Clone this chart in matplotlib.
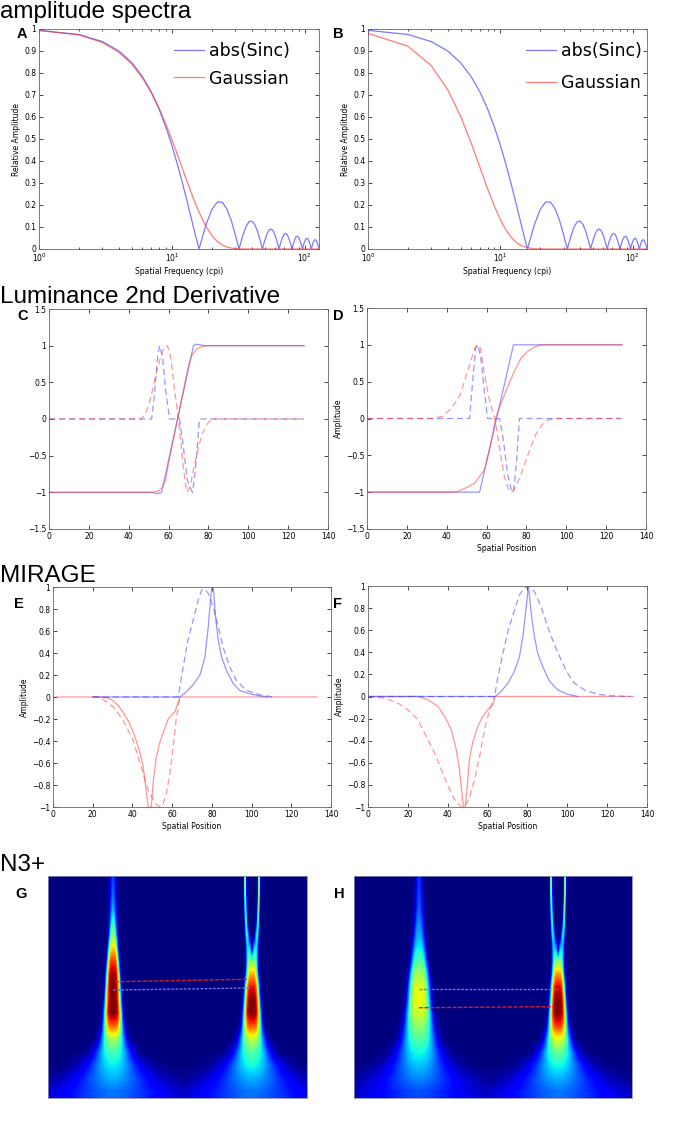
import numpy as np
import matplotlib
matplotlib.use("Agg")
import matplotlib.pyplot as plt
from matplotlib.ticker import FuncFormatter, MultipleLocator

# ---------------- data ----------------
# amplitude spectra (spatial frequency in cpi)
freq = [1, 2, 3, 4, 5, 6, 7, 8, 9, 10, 11, 12, 13, 14, 15, 16,
        18, 20, 22, 24, 26, 28, 30, 32, 34, 36, 38, 40, 42, 44, 46, 48,
        50, 52, 54, 56, 58, 60, 62, 64, 66, 68, 70, 72, 74, 76, 78, 80,
        82, 84, 86, 88, 90, 92, 94, 96, 98, 100, 102, 104, 106, 108, 110, 112,
        114, 116, 118, 120, 122, 124, 126, 128]
sinc_amp = [0.994, 0.975, 0.943, 0.900, 0.847, 0.784, 0.714, 0.637, 0.555, 0.471,
            0.385, 0.300, 0.218, 0.139, 0.066, 0.0,
            0.108, 0.180, 0.214, 0.212, 0.181, 0.129, 0.065, 0.0,
            0.057, 0.100, 0.124, 0.127, 0.112, 0.082, 0.042, 0.0,
            0.039, 0.069, 0.087, 0.091, 0.081, 0.060, 0.031, 0.0,
            0.030, 0.053, 0.067, 0.071, 0.064, 0.047, 0.025, 0.0,
            0.024, 0.043, 0.055, 0.058, 0.052, 0.039, 0.021, 0.0,
            0.020, 0.036, 0.046, 0.049, 0.044, 0.033, 0.018, 0.0,
            0.017, 0.031, 0.040, 0.042, 0.039, 0.029, 0.016, 0.0]
gauss_amp_a = [0.993, 0.973, 0.939, 0.894, 0.840, 0.778, 0.711, 0.640, 0.568, 0.498,
               0.430, 0.366, 0.308, 0.255, 0.208, 0.168,
               0.104, 0.061, 0.034, 0.018, 0.009, 0.004, 0.002, 0.001,
               0.0003, 0.0001] + [0.0] * 46
gauss_amp_b = [0.980, 0.922, 0.834, 0.724, 0.604, 0.483, 0.372, 0.274, 0.195, 0.133,
               0.087, 0.055, 0.033, 0.019, 0.011, 0.006,
               0.0014, 0.0003] + [0.0] * 54

# luminance edge (solid) and 2nd derivative (dashed), panel C
c_sinc_x = [0, 52, 54, 56.5, 72.5, 74, 78, 128]
c_sinc_y = [-1, -1, -1.02, -1, 1, 1.02, 1, 1]
c_gauss_x = [0, 52, 55, 57, 58.5, 60, 62, 64.5, 67, 69, 70.5, 72, 74, 76, 79, 128]
c_gauss_y = [-1, -1, -0.98, -0.93, -0.83, -0.6, -0.33, 0, 0.33, 0.6, 0.78, 0.88, 0.95, 0.98, 1, 1]
c_sinc_d2_x = [0, 51.5, 53, 54.5, 55.5, 57, 58.5, 60.5, 65.5, 67.5, 69.5, 72, 73.5, 75.5, 128]
c_sinc_d2_y = [0, 0, 0.35, 0.85, 1, 0.85, 0.4, 0, 0, -0.4, -0.85, -1, -0.7, 0, 0]
c_gauss_d2_x = [0, 46, 48, 50, 52, 54, 56, 58, 59.5, 61, 63, 65, 67, 68.5, 69.5, 71, 73,
                75.5, 77, 79, 81, 83, 128]
c_gauss_d2_y = [0, 0, 0.05, 0.18, 0.4, 0.65, 0.85, 0.98, 1, 0.85, 0.4, 0, -0.55, -0.9, -1,
                -0.9, -0.62, -0.34, -0.2, -0.08, -0.02, 0, 0]

# panel D
d_sinc_x = [0, 56.5, 73.5, 128]
d_sinc_y = [-1, -1, 1, 1]
d_gauss_x = [0, 43, 45.5, 50.5, 53.9, 58.9, 62.2, 64.5, 67.2, 70.6, 73.9, 77.3, 80.6,
             84, 87.3, 128]
d_gauss_y = [-1, -1, -0.99, -0.93, -0.88, -0.7, -0.34, 0, 0.2, 0.43, 0.64, 0.82, 0.91,
             0.97, 1, 1]
d_sinc_d2_x = [0, 51.5, 53, 54.5, 55.5, 57, 59, 60.5, 66.5, 68.5, 70.5, 72.5, 73.5, 75, 76.5, 128]
d_sinc_d2_y = [0, 0, 0.5, 0.95, 1, 0.85, 0.35, 0, 0, -0.3, -0.75, -0.98, -1, -0.6, 0, 0]
d_gauss_d2_x = [0, 33, 38, 42, 45, 47, 50, 52, 54, 55.5, 57, 59, 61, 62.5, 64.2, 66.5, 69,
                71, 72.5, 74, 77, 80, 82, 85, 88, 91, 94, 127]
d_gauss_d2_y = [0, 0, 0.03, 0.13, 0.24, 0.34, 0.6, 0.77, 0.95, 1, 0.95, 0.6, 0.3, 0.15, 0,
                -0.4, -0.8, -0.96, -1, -0.96, -0.78, -0.55, -0.4, -0.2, -0.08, -0.02, 0, 0]

# MIRAGE, panel E
e_pos_x = [20, 64, 67, 70.5, 74, 76.5, 78.2, 79.3, 80, 80.7, 82, 83.2, 85, 87.4, 90.8,
           94, 99, 104, 108]
e_pos_y = [0, 0, 0.045, 0.11, 0.2, 0.36, 0.64, 0.88, 1, 1, 0.7, 0.52, 0.36, 0.24, 0.12,
           0.06, 0.03, 0.01, 0]
e_pos_d_x = [20, 63, 64.7, 66.4, 68, 70.6, 73.1, 74.8, 76.5, 78.2, 80.7, 83.2, 85.7, 89.1,
             92.4, 97.5, 104.2, 110.9]
e_pos_d_y = [0, 0, 0.18, 0.36, 0.52, 0.7, 0.88, 0.97, 0.98, 0.94, 0.82, 0.64, 0.45, 0.27,
             0.15, 0.06, 0.02, 0]
e_neg_x = [0, 24, 28, 30, 33, 35, 38, 40, 42, 44, 45.5, 47, 48, 49.5, 50.5, 52, 54, 56,
           58, 60, 61.5, 64, 133]
e_neg_y = [0, 0, -0.01, -0.03, -0.08, -0.13, -0.22, -0.3, -0.4, -0.52, -0.64, -0.87, -1,
           -1, -0.76, -0.55, -0.4, -0.3, -0.2, -0.16, -0.13, 0, 0]
e_neg_d_x = [20, 23.5, 30.3, 35.3, 40.3, 44.5, 47.9, 52.1, 53.8, 55.5, 57.1, 58.8, 60.5,
             62.2, 63.9]
e_neg_d_y = [0, 0, -0.09, -0.21, -0.39, -0.64, -0.85, -0.98, -1, -0.97, -0.88, -0.7, -0.45,
             -0.18, 0]

# MIRAGE, panel F
f_pos_x = [0, 63.8, 66.8, 70.2, 73.5, 76, 77.7, 79.4, 80.5, 81.9, 83.5, 85.2, 87.7, 91,
           95.2, 100.2, 105.2]
f_pos_y = [0, 0, 0.045, 0.12, 0.23, 0.36, 0.54, 0.81, 1, 0.75, 0.54, 0.39, 0.27, 0.14,
           0.06, 0.02, 0]
f_pos_d_x = [0, 63.5, 65.2, 67.7, 70.2, 73.5, 76, 78.5, 80.5, 83.5, 86.9, 90.2, 93.5, 96.9,
             100.2, 103.6, 108.6, 115.3, 122, 132]
f_pos_d_y = [0, 0, 0.18, 0.39, 0.59, 0.78, 0.92, 0.98, 1, 0.95, 0.81, 0.63, 0.47, 0.33,
             0.21, 0.12, 0.06, 0.02, 0.006, 0]
f_neg_x = [0, 25, 30.1, 35.1, 38.4, 41.8, 44.3, 45.9, 47.1, 47.9, 48.8, 49.8, 50.9, 52.6,
           55.1, 57.6, 60.1, 62.6, 63.8, 133]
f_neg_y = [0, 0, -0.03, -0.09, -0.18, -0.3, -0.48, -0.66, -0.87, -1, -1, -0.81, -0.57,
           -0.41, -0.27, -0.18, -0.12, -0.075, 0, 0]
f_neg_d_x = [0, 8.4, 15, 20, 25, 29.2, 33.4, 36.8, 40.1, 43.4, 46.8, 48.4, 50.9, 53.5, 56,
             58.5, 61, 63.5]
f_neg_d_y = [0, -0.015, -0.06, -0.12, -0.21, -0.36, -0.51, -0.66, -0.81, -0.93, -1, -1,
             -0.92, -0.75, -0.54, -0.3, -0.12, 0]

# N3+ maps: per-row strength, width and profile shape of the two ridges (rows top -> bottom)
ridge_pow = [2, 2, 2, 2.5, 3, 3.5, 4, 4, 4, 4, 4, 3.5, 3, 2.5, 2, 1.8, 1.6]
g_left_amp = [0.2, 0.24, 0.3, 0.4, 0.52, 0.68, 0.85, 0.97, 1.0, 1.0, 1.0, 0.8, 0.55, 0.43, 0.36, 0.3, 0.24]
g_left_sig = [2.2, 2.2, 2.3, 2.7, 3.2, 4, 4.75, 5.5, 6, 6.5, 7.2, 7.8, 9.5, 13, 18, 26, 38]
g_right_amp = [0.58, 0.53, 0.48, 0.43, 0.38, 0.36, 0.5, 0.72, 0.9, 1.0, 1.0, 0.82, 0.58, 0.45, 0.38, 0.3, 0.24]
g_right_sig = [0.8, 0.8, 0.9, 1.1, 1.5, 2.2, 4, 5, 5.8, 6.3, 7, 7.6, 9.5, 13, 18, 26, 38]
g_right_split = [7, 6.8, 6.5, 6, 5, 3.5, 1, 0, 0, 0, 0, 0, 0, 0, 0, 0, 0]
h_left_amp = [0.18, 0.2, 0.22, 0.26, 0.3, 0.36, 0.45, 0.55, 0.62, 0.64, 0.6, 0.52, 0.45, 0.38, 0.32, 0.26, 0.2]
h_left_sig = [2.4, 2.6, 2.8, 3.5, 4.3, 5.5, 6.6, 7.9, 8.8, 9.4, 10.6, 11.6, 13.2, 16, 20, 28, 38]
h_right_amp = [0.58, 0.53, 0.48, 0.42, 0.36, 0.33, 0.5, 0.75, 0.92, 1.0, 1.0, 0.85, 0.62, 0.47, 0.38, 0.3, 0.24]
h_right_sig = [0.8, 0.8, 0.9, 1.1, 1.5, 2.2, 4, 5, 5.8, 6.3, 7, 7.6, 9.5, 13, 18, 26, 38]
h_right_split = [7, 6.8, 6.5, 6, 5, 3.5, 1, 0, 0, 0, 0, 0, 0, 0, 0, 0, 0]

# ---------------- layout ----------------
W, H = 682, 1131
fig = plt.figure(figsize=(W / 100, H / 100), dpi=100)


def px_axes(l, t, r, b):
    return fig.add_axes([l / W, 1 - b / H, (r - l) / W, (b - t) / H])


def fmt(v, pos):
    v = round(v, 6) + 0.0
    return ("%g" % v).replace("-", "\u2212")


def style(ax):
    for s in ax.spines.values():
        s.set_color("#666666")
        s.set_linewidth(0.6)
    ax.tick_params(which="both", direction="in", top=True, right=True,
                   labelsize=5.5, width=0.5, pad=2)
    ax.tick_params(which="major", length=3)
    ax.tick_params(which="minor", length=1.5)


def fig_text(x, y, s, **kw):
    fig.text(x / W, 1 - y / H, s, va="baseline", ha="left", **kw)


blue = (0.2, 0.2, 1.0, 0.65)
red = (1.0, 0.2, 0.2, 0.65)
blue_l = (0.25, 0.25, 1.0, 0.55)
red_l = (1.0, 0.25, 0.25, 0.55)
lw = 0.9

title_font = dict(family="Liberation Sans", fontsize=17.5)
letter_font = dict(family="Liberation Sans", fontsize=10.5, fontweight="bold")

# section titles and panel letters
fig_text(0, 18, "amplitude spectra", **title_font)
fig_text(0, 303, "Luminance 2nd Derivative", **title_font)
fig_text(0, 582, "MIRAGE", **title_font)
fig_text(0, 871, "N3+", **title_font)
for letter, x, y in [("A", 17, 38), ("B", 333, 38), ("C", 17, 320), ("D", 333, 320),
                     ("E", 14, 608), ("F", 333, 608), ("G", 15, 898), ("H", 334, 898)]:
    fig_text(x, y, letter, **letter_font)

# ---------------- A, B: spectra ----------------
for rect, gauss, leg_xy, spacing in [((39, 29, 319, 249), gauss_amp_a, (174, 42), 0.55),
                                     ((368, 29, 647, 249), gauss_amp_b, (526, 42), 0.8)]:
    ax = px_axes(*rect)
    ax.plot(freq, sinc_amp, color=blue, lw=lw, label="abs(Sinc)")
    ax.plot(freq, gauss, color=red, lw=lw, label="Gaussian")
    ax.set_xscale("log")
    ax.set_xlim(1, 128)
    ax.set_ylim(0, 1)
    ax.yaxis.set_major_locator(MultipleLocator(0.1))
    ax.yaxis.set_major_formatter(FuncFormatter(fmt))
    ax.set_xlabel("Spatial Frequency (cpi)", fontsize=5.5, labelpad=2)
    ax.set_ylabel("Relative Amplitude", fontsize=5.5, labelpad=2)
    style(ax)
    ax.legend(loc="upper left", bbox_to_anchor=(leg_xy[0] / W, 1 - leg_xy[1] / H),
              bbox_transform=fig.transFigure, frameon=False, fontsize=12.5,
              handlelength=1.7, handletextpad=0.3, labelspacing=spacing,
              borderpad=0, borderaxespad=0)

# ---------------- C, D: luminance ----------------
for rect, sets, labels in [
        ((49, 309, 328, 529),
         (c_sinc_x, c_sinc_y, c_gauss_x, c_gauss_y, c_sinc_d2_x, c_sinc_d2_y, c_gauss_d2_x, c_gauss_d2_y),
         False),
        ((367, 308, 646, 529),
         (d_sinc_x, d_sinc_y, d_gauss_x, d_gauss_y, d_sinc_d2_x, d_sinc_d2_y, d_gauss_d2_x, d_gauss_d2_y),
         True)]:
    ax = px_axes(*rect)
    sx, sy, gx, gy, sdx, sdy, gdx, gdy = sets
    ax.plot(sx, sy, color=blue_l, lw=lw)
    ax.plot(gx, gy, color=red_l, lw=lw)
    ax.plot(sdx, sdy, color=blue_l, lw=lw, ls=(0, (5, 3)))
    ax.plot(gdx, gdy, color=red_l, lw=lw, ls=(0, (5, 3)))
    ax.set_xlim(0, 140)
    ax.set_ylim(-1.5, 1.5)
    ax.xaxis.set_major_locator(MultipleLocator(20))
    ax.yaxis.set_major_locator(MultipleLocator(0.5))
    ax.yaxis.set_major_formatter(FuncFormatter(fmt))
    ax.xaxis.set_major_formatter(FuncFormatter(fmt))
    if labels:
        ax.set_xlabel("Spatial Position", fontsize=5.5, labelpad=2)
        ax.set_ylabel("Amplitude", fontsize=5.5, labelpad=2)
    style(ax)

# ---------------- E, F: MIRAGE ----------------
for rect, sets in [
        ((53, 587, 331, 807),
         (e_neg_x, e_neg_y, e_neg_d_x, e_neg_d_y, e_pos_x, e_pos_y, e_pos_d_x, e_pos_d_y)),
        ((368, 586, 647, 807),
         (f_neg_x, f_neg_y, f_neg_d_x, f_neg_d_y, f_pos_x, f_pos_y, f_pos_d_x, f_pos_d_y))]:
    ax = px_axes(*rect)
    nx, ny, ndx, ndy, px_, py, pdx, pdy = sets
    ax.plot(nx, ny, color=red_l, lw=lw)
    ax.plot(ndx, ndy, color=red_l, lw=lw, ls=(0, (5, 3)))
    ax.plot(px_, py, color=blue_l, lw=lw)
    ax.plot(pdx, pdy, color=blue_l, lw=lw, ls=(0, (5, 3)))
    ax.set_xlim(0, 140)
    ax.set_ylim(-1, 1)
    ax.xaxis.set_major_locator(MultipleLocator(20))
    ax.yaxis.set_major_locator(MultipleLocator(0.2))
    ax.yaxis.set_major_formatter(FuncFormatter(fmt))
    ax.xaxis.set_major_formatter(FuncFormatter(fmt))
    ax.set_xlabel("Spatial Position", fontsize=5.5, labelpad=2)
    ax.set_ylabel("Amplitude", fontsize=5.5, labelpad=2)
    style(ax)


# ---------------- G, H: N3+ maps ----------------
def ridge(ncols, center, amps, sigs, splits=None):
    cols = np.arange(ncols) + 0.5
    rows = []
    for i, a in enumerate(amps):
        off = splits[i] if splits else 0.0
        p = ridge_pow[i]
        p1 = np.exp(-0.5 * (np.abs(cols - center - off) / sigs[i]) ** p)
        p2 = np.exp(-0.5 * (np.abs(cols - center + off) / sigs[i]) ** p)
        rows.append(a * np.maximum(p1, p2))
    return np.array(rows)


maps = [
    ((48, 876, 307, 1098), 259, 222,
     (65, g_left_amp, g_left_sig), (204, g_right_amp, g_right_sig, g_right_split),
     [((67, 200), (105.7, 103.3), "#d42020", (0, (3, 1))),
      ((65, 203), (114, 112), "#6f6fe6", (0, (2, 1)))]),
    ((354, 876, 632, 1098), 278, 222,
     (65, h_left_amp, h_left_sig), (204, h_right_amp, h_right_sig, h_right_split),
     [((65, 204), (113, 113), "#6f6fe6", (0, (2, 1))),
      ((65, 200), (131.7, 130.7), "#d42020", (0, (3, 1)))]),
]
for rect, ncols, nrows, left, right, lines in maps:
    ax = px_axes(*rect)
    img = np.maximum(ridge(ncols, *left), ridge(ncols, *right))
    ax.imshow(img, cmap="jet", vmin=0, vmax=1, aspect="auto",
              interpolation="bilinear", interpolation_stage="data",
              extent=(0, ncols, nrows, 0))
    for xs, ys, col, ls in lines:
        ax.plot(xs, ys, color=col, lw=1.0, ls=ls)
    ax.set_xlim(0, ncols)
    ax.set_ylim(nrows, 0)
    ax.set_xticks([])
    ax.set_yticks([])
    for s in ax.spines.values():
        s.set_color("#8a8ab8")
        s.set_linewidth(0.6)

fig.savefig("out.png", dpi=100)
